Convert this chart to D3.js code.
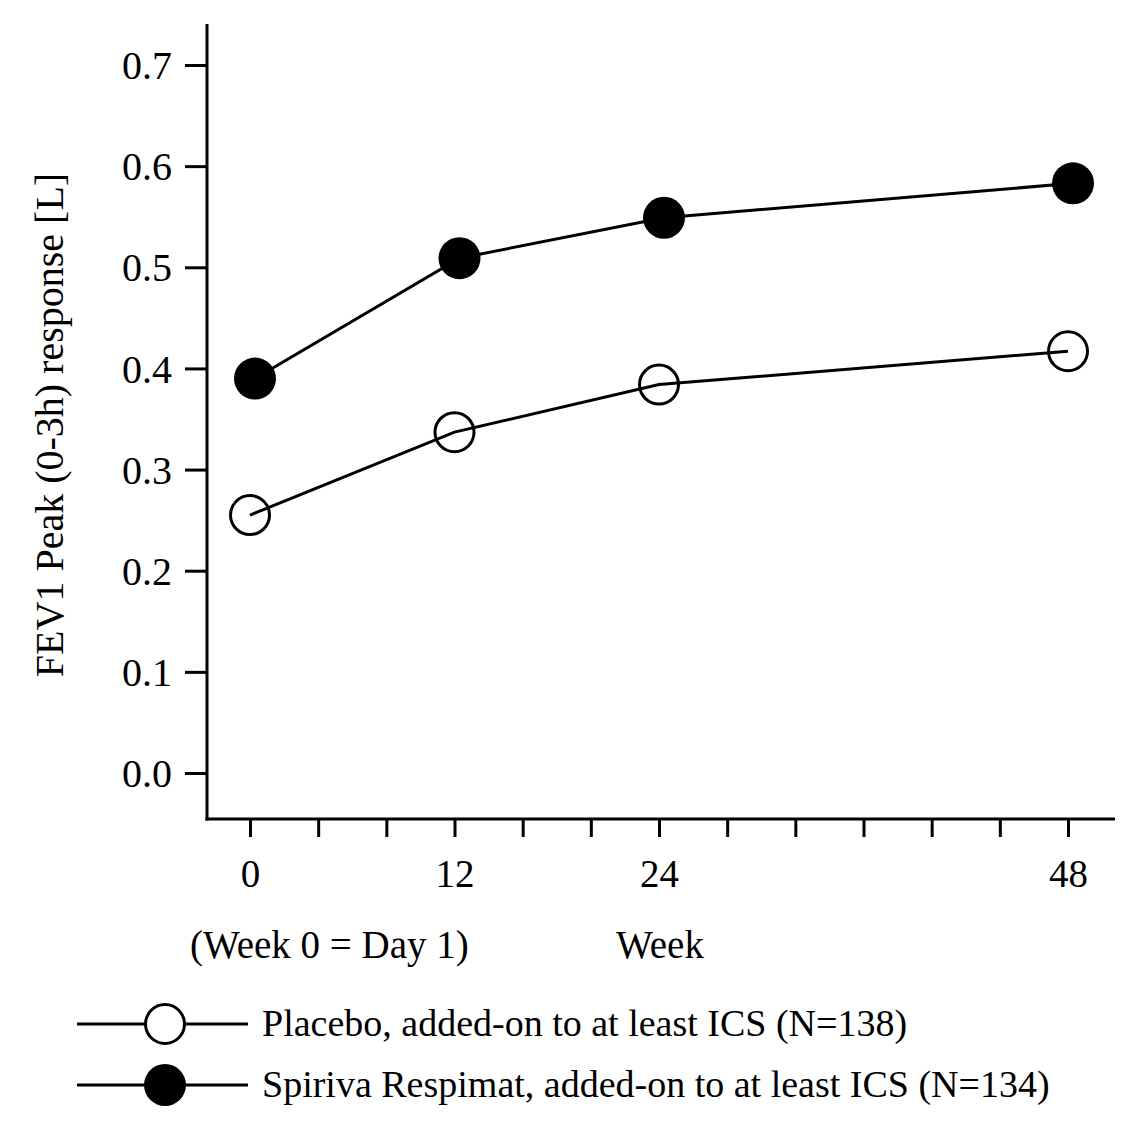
<!DOCTYPE html>
<html><head><meta charset="utf-8">
<script src="https://cdn.jsdelivr.net/npm/d3@7"></script>
<style>body{margin:0;background:#fff}svg{display:block}text{font-family:"Liberation Serif","Times New Roman",serif;fill:#000}</style>
</head><body>
<svg id="c" width="1140" height="1136"></svg>
<script>
const weeks = [0, 12, 24, 48];
const placebo = [0.255, 0.337, 0.384, 0.417];
const spiriva = [0.390, 0.509, 0.549, 0.583];
const xTicks = [0,4,8,12,16,20,24,28,32,36,40,44,48];
const xLabels = [0,12,24,48];
const yTicks = [0,0.1,0.2,0.3,0.4,0.5,0.6,0.7];
const seriesNames = ["Placebo, added-on to at least ICS (N=138)", "Spiriva Respimat, added-on to at least ICS (N=134)"];

const svg = d3.select("#c");
const x = d3.scaleLinear().domain([0,48]).range([250,1068]);
const y = d3.scaleLinear().domain([0,0.7]).range([773,65]);
const axisY0 = 819, axisX0 = 207;

// x axis
const gx = svg.append("g").attr("transform",`translate(0,${axisY0})`)
  .call(d3.axisBottom(x).tickValues(xTicks).tickSize(18).tickPadding(22)
    .tickFormat(d => xLabels.includes(d) ? d : ""));
gx.select(".domain").remove();
gx.selectAll(".tick line").attr("stroke","#000").attr("stroke-width",3);
gx.selectAll(".tick text").attr("font-size",39).attr("dy","0.71em");

// y axis
const gy = svg.append("g").attr("transform",`translate(${axisX0},0)`)
  .call(d3.axisLeft(y).tickValues(yTicks).tickSize(22).tickPadding(13).tickFormat(d3.format(".1f")));
gy.select(".domain").remove();
gy.selectAll(".tick line").attr("stroke","#000").attr("stroke-width",3);
gy.selectAll(".tick text").attr("font-size",40).attr("dy","0.34em");

// frame lines
svg.append("line").attr("x1",axisX0).attr("x2",axisX0).attr("y1",24).attr("y2",axisY0+1.5).attr("stroke","#000").attr("stroke-width",3);
svg.append("line").attr("x1",axisX0-1.5).attr("x2",1115).attr("y1",axisY0).attr("y2",axisY0).attr("stroke","#000").attr("stroke-width",3);

// axis titles
svg.append("text").attr("x",190).attr("y",958).attr("font-size",39).text("(Week 0 = Day 1)");
svg.append("text").attr("x",660).attr("y",958).attr("font-size",39).attr("text-anchor","middle").text("Week");
svg.append("text").attr("transform","translate(63,425) rotate(-90)").attr("font-size",40).attr("text-anchor","middle").text("FEV1 Peak (0-3h) response [L]");

// series
const series = [
  {vals: placebo, filled: false, dx: 0},
  {vals: spiriva, filled: true, dx: 5}
];
const line = d3.line();
series.forEach(s => {
  const pts = weeks.map((w,i) => [x(w)+s.dx, y(s.vals[i])]);
  const g = svg.append("g");
  if (s.filled) {
    g.append("path").attr("d",line(pts)).attr("fill","none").attr("stroke","#000").attr("stroke-width",3);
    g.selectAll("circle").data(pts).join("circle").attr("cx",d=>d[0]).attr("cy",d=>d[1]).attr("r",21).attr("fill","#000");
  } else {
    g.selectAll("circle").data(pts).join("circle").attr("cx",d=>d[0]).attr("cy",d=>d[1]).attr("r",19.5).attr("fill","none").attr("stroke","#000").attr("stroke-width",3);
    g.append("path").attr("d",line(pts)).attr("fill","none").attr("stroke","#000").attr("stroke-width",3);
  }
});

// legend
const legY = [1024, 1085];
seriesNames.forEach((name,i) => {
  const g = svg.append("g");
  g.append("line").attr("x1",77).attr("x2",248).attr("y1",legY[i]).attr("y2",legY[i]).attr("stroke","#000").attr("stroke-width",3);
  if (series[i].filled) g.append("circle").attr("cx",165).attr("cy",legY[i]).attr("r",21).attr("fill","#000");
  else g.append("circle").attr("cx",165).attr("cy",legY[i]).attr("r",19.5).attr("fill","#fff").attr("stroke","#000").attr("stroke-width",3);
  g.append("text").attr("x",262).attr("y",legY[i]+12).attr("font-size",38).text(name);
});
</script>
</body></html>
